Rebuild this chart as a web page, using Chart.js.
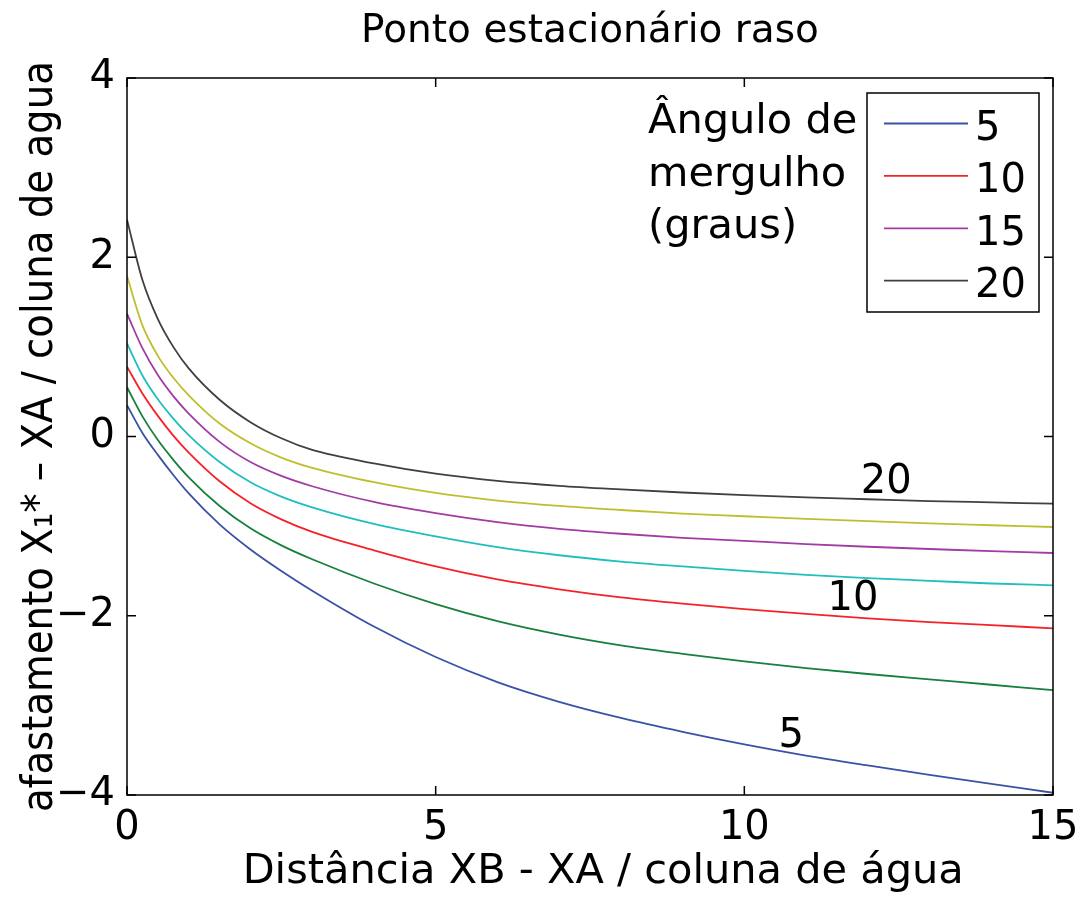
<!DOCTYPE html>
<html>
<head>
<meta charset="utf-8">
<script src="https://cdn.jsdelivr.net/npm/chart.js@4"></script>
<style>
  body { margin: 0; background: #fff; }
</style>
</head>
<body>
<canvas id="grafico" width="1082" height="899"></canvas>
<script>
// distancia XB - XA / coluna de agua
var distancia = [0, 0.25, 0.5, 0.75, 1, 1.5, 2, 2.5, 3, 4, 5, 6, 7, 8, 9, 10, 11, 12, 13, 14, 15]

// angulos de mergulho (graus), um por curva
var angulos = ['5', '7.5', '10', '12.5', '15', '17.5', '20']

// afastamento X1* - XA / coluna de agua
var afast5    = [0.35, 0.04, -0.205, -0.43, -0.635, -0.98, -1.26, -1.50, -1.72, -2.12, -2.46, -2.74, -2.96, -3.14, -3.295, -3.435, -3.56, -3.67, -3.775, -3.875, -3.975]
var afast7_5  = [0.55, 0.225, -0.04, -0.26, -0.455, -0.775, -1.025, -1.215, -1.37, -1.64, -1.87, -2.06, -2.21, -2.33, -2.425, -2.51, -2.585, -2.65, -2.71, -2.77, -2.83]
var afast10   = [0.78, 0.48, 0.23, 0.01, -0.18, -0.50, -0.745, -0.925, -1.065, -1.27, -1.45, -1.595, -1.705, -1.795, -1.865, -1.925, -1.98, -2.03, -2.07, -2.105, -2.14]
var afast12_5 = [1.04, 0.68, 0.415, 0.20, 0.015, -0.285, -0.51, -0.67, -0.79, -0.975, -1.115, -1.235, -1.325, -1.395, -1.45, -1.50, -1.545, -1.58, -1.61, -1.64, -1.66]
var afast15   = [1.37, 0.985, 0.685, 0.45, 0.255, -0.06, -0.285, -0.44, -0.555, -0.73, -0.855, -0.955, -1.03, -1.085, -1.13, -1.165, -1.20, -1.23, -1.255, -1.28, -1.30]
var afast17_5 = [1.79, 1.24, 0.90, 0.655, 0.46, 0.145, -0.075, -0.235, -0.35, -0.51, -0.63, -0.715, -0.775, -0.82, -0.86, -0.89, -0.92, -0.945, -0.97, -0.99, -1.01]
var afast20   = [2.42, 1.745, 1.31, 1.00, 0.76, 0.41, 0.16, -0.02, -0.15, -0.30, -0.415, -0.495, -0.55, -0.59, -0.625, -0.655, -0.68, -0.70, -0.72, -0.735, -0.75]

var series = [afast5, afast7_5, afast10, afast12_5, afast15, afast17_5, afast20]
var cores = ['#3a52a6', '#16803c', '#f5222a', '#1fbfbf', '#a23ca3', '#bfbf2e', '#404040']

// so estas entram na legenda
var legendaAngulos = ['5', '10', '15', '20']
var legendaTitulo = ['Ângulo de', 'mergulho', '(graus)']

// rotulos escritos junto das curvas (em unidades dos eixos)
var rotulosTexto = ['20', '10', '5']
var rotulosX = [12.3, 11.76, 10.76]
var rotulosY = [-0.51, -1.82, -3.35]

Chart.defaults.font.family = '"DejaVu Sans", sans-serif'
Chart.defaults.color = '#000'

var datasets = series.map(function (s, i) {
    return {
        label: angulos[i],
        data: s.map(function (v, j) { return { x: distancia[j], y: v } }),
        borderColor: cores[i],
        borderWidth: 1.8,
        pointRadius: 0,
        fill: false,
        cubicInterpolationMode: 'monotone'
    }
})

// moldura, ticks para dentro, rotulos das curvas e legenda
var moldura = {
    id: 'moldura',
    afterDraw: function (chart) {
        var c = chart.ctx, a = chart.chartArea
        var sx = chart.scales.x, sy = chart.scales.y
        c.save()
        c.strokeStyle = '#000'
        c.lineWidth = 1.5
        c.strokeRect(a.left, a.top, a.right - a.left, a.bottom - a.top)
        c.beginPath()
        sx.ticks.forEach(function (t) {
            var px = sx.getPixelForValue(t.value)
            c.moveTo(px, a.bottom); c.lineTo(px, a.bottom - 9)
            c.moveTo(px, a.top); c.lineTo(px, a.top + 9)
        })
        sy.ticks.forEach(function (t) {
            var py = sy.getPixelForValue(t.value)
            c.moveTo(a.left, py); c.lineTo(a.left + 9, py)
            c.moveTo(a.right, py); c.lineTo(a.right - 9, py)
        })
        c.stroke()

        c.fillStyle = '#000'
        c.font = '40px "DejaVu Sans"'
        c.textAlign = 'center'
        c.textBaseline = 'middle'
        rotulosTexto.forEach(function (t, i) {
            c.fillText(t, sx.getPixelForValue(rotulosX[i]), sy.getPixelForValue(rotulosY[i]))
        })

        // legenda
        var bw = 172, bh = 219
        var bx = a.right - 14 - bw, by = a.top + 15
        c.fillStyle = '#fff'
        c.fillRect(bx, by, bw, bh)
        c.strokeStyle = '#000'
        c.lineWidth = 1.5
        c.strokeRect(bx, by, bw, bh)
        c.textAlign = 'left'
        c.textBaseline = 'alphabetic'
        var k = 0
        chart.data.datasets.forEach(function (d) {
            if (legendaAngulos.indexOf(d.label) < 0) return
            var base = by + 47 + k * 52.4
            c.strokeStyle = d.borderColor
            c.lineWidth = 1.8
            c.beginPath()
            c.moveTo(bx + 17, base - 16.5)
            c.lineTo(bx + 101, base - 16.5)
            c.stroke()
            c.fillStyle = '#000'
            c.fillText(d.label, bx + 108, base)
            k++
        })
        c.font = '41.5px "DejaVu Sans"'
        legendaTitulo.forEach(function (t, i) {
            c.fillText(t, bx - 219, by + 40 + i * 52.5)
        })
        c.restore()
    }
}

new Chart(document.getElementById('grafico'), {
    type: 'line',
    data: { datasets: datasets },
    options: {
        responsive: false,
        animation: false,
        layout: { padding: { left: 0, right: 29, top: 0, bottom: 0 } },
        plugins: {
            legend: { display: false },
            tooltip: { enabled: false },
            title: {
                display: true,
                fullSize: false,
                text: 'Ponto estacionário raso',
                font: { size: 39, weight: 'normal' },
                padding: { top: 8, bottom: 23.2 }
            }
        },
        scales: {
            x: {
                type: 'linear',
                min: 0,
                max: 15,
                grid: { display: false, drawTicks: false },
                border: { display: false },
                ticks: { stepSize: 5, maxRotation: 0, padding: 10, font: { size: 40 } },
                title: {
                    display: true,
                    text: '\u00a0\u00a0Distância XB - XA / coluna de água',
                    font: { size: 41.5 },
                    padding: { top: 0, bottom: 2 }
                },
                afterFit: function (s) {
                    s.height = 104
                    s.paddingLeft = 0
                    s.paddingRight = 0
                }
            },
            y: {
                min: -4,
                max: 4,
                grid: { display: false, drawTicks: false },
                border: { display: false },
                ticks: {
                    stepSize: 2,
                    padding: 12,
                    font: { size: 40 },
                    callback: function (v) { return String(v).replace('-', '\u2212') }
                },
                title: {
                    display: true,
                    text: 'afastamento X\u2081* \u2013 XA / coluna de agua',
                    font: { family: '"DejaVu Sans Condensed", "DejaVu Sans"', size: 43 },
                    padding: { top: 15, bottom: 0 }
                },
                afterFit: function (s) { s.width = 127 }
            }
        }
    },
    plugins: [moldura]
})
</script>
</body>
</html>
